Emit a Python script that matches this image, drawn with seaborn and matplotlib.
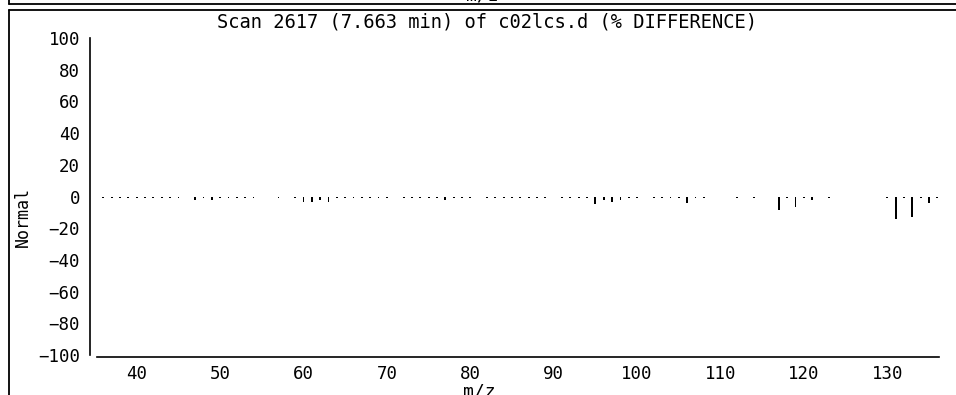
import numpy as np
import pandas as pd
import matplotlib
matplotlib.use("Agg")
import matplotlib.pyplot as plt
import seaborn as sns
from matplotlib.lines import Line2D

# m/z values and % difference
mz = [36, 37, 38, 39, 40, 41, 42, 43, 44, 45,
      47, 48, 49, 50, 51, 52, 53, 54,
      57, 59, 60, 61, 62, 63, 64, 65, 66, 67, 68, 69, 70,
      72, 73, 74, 75, 76, 77, 78, 79, 80,
      82, 83, 84, 85, 86, 87, 88, 89,
      91, 92, 93, 94, 95, 96, 97, 98, 99, 100,
      102, 103, 104, 105, 106, 107, 108,
      112, 114, 117, 118, 119, 120, 121, 123,
      130, 131, 132, 133, 134, 135, 136]
diff = [-1, -1, -1, -1, -1, -1, -1, -1, -1, -1,
        -2, -1, -2.5, -1, -1, -1, -1, -1,
        -1, -1, -3.5, -3.5, -2, -3.5, -1, -1, -1, -1, -1, -1, -1,
        -1, -1, -1, -1, -1, -2.5, -1, -1, -1,
        -1, -1, -1, -1, -1, -1, -1, -1,
        -1, -1, -1, -1, -5, -2, -3.5, -2, -1, -1,
        -1, -1, -1, -1, -4, -1, -1,
        -1, -1, -8.5, -1, -6.7, -1, -2.5, -1,
        -1, -14, -1, -13, -1, -4, -1]

yticks = [-100, -80, -60, -40, -20, 0, 20, 40, 60, 80, 100]
xticks = [40, 50, 60, 70, 80, 90, 100, 110, 120, 130]
title = "Scan 2617 (7.663 min) of c02lcs.d (% DIFFERENCE)"

df = pd.DataFrame({"mz": mz, "diff": diff})

sns.set_theme(style="white")
plt.rcParams["font.family"] = ["DejaVu Sans Mono"]

W, H = 956, 395
fig = plt.figure(figsize=(W / 100, H / 100), dpi=100, facecolor="white")
ax = fig.add_axes([96.7 / W, 1 - 355 / H, (939 - 96.7) / W, (355 - 38) / H])

sns.barplot(data=df, x="mz", y="diff", native_scale=True, width=0.22,
            color="black", saturation=1, errorbar=None, linewidth=0, ax=ax)

ax.set_xlim(35.2, 136.2)
ax.set_ylim(-100, 100)
ax.set_xticks(xticks)
ax.set_yticks(yticks)
ax.set_xticklabels([str(t) for t in xticks])
ax.set_yticklabels([str(t).replace("-", "\u2212") for t in yticks])
ax.set_xlabel("")
ax.set_ylabel("")

for s in ["top", "right"]:
    ax.spines[s].set_visible(False)
ax.spines["left"].set_position(("outward", 5))
ax.spines["bottom"].set_position(("outward", 1.5))
for s in ["left", "bottom"]:
    ax.spines[s].set_color("black")
    ax.spines[s].set_linewidth(1.2)
ax.tick_params(axis="both", direction="out", length=3.5, width=1.2,
               color="black", labelcolor="black", labelsize=12.5, pad=3.5)
ax.tick_params(axis="x", pad=2.5)
ax.patch.set_alpha(0)

# texts
fig.text(487 / W, 1 - 27 / H, title, ha="center", va="baseline", fontsize=13.5, color="black")
fig.text(23 / W, 1 - 217 / H, "Normal", rotation=90, ha="center", va="center",
         fontsize=12, color="black")
fig.text(463 / W, 1 - 397 / H, "m/z", ha="left", va="baseline", fontsize=13, color="black")
fig.text(466 / W, 1 - 1 / H, "m/z", ha="left", va="baseline", fontsize=13, color="black")

# panel frame
lw = 1.3
fig.add_artist(Line2D([8.5 / W, 8.5 / W], [1, 1 - 3.5 / H], color="black", lw=lw))
fig.add_artist(Line2D([8.5 / W, 8.5 / W], [1 - 9.5 / H, 0], color="black", lw=lw))
fig.add_artist(Line2D([8.5 / W, 1], [1 - 3.5 / H, 1 - 3.5 / H], color="black", lw=lw))
fig.add_artist(Line2D([8.5 / W, 1], [1 - 9.5 / H, 1 - 9.5 / H], color="black", lw=lw))

fig.savefig("out.png", dpi=100, facecolor="white")
